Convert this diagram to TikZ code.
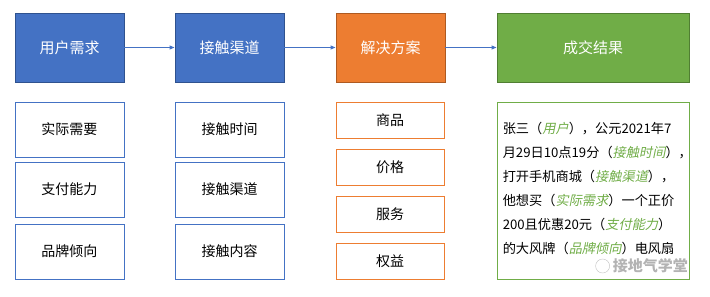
\documentclass[tikz,border=0pt]{standalone}
\usepackage{fontspec}
\setmainfont{Noto Sans CJK SC}
\newfontfamily\cjkit{Noto Sans CJK SC}[FakeSlant=0.2]
\usetikzlibrary{arrows.meta}
\definecolor{cblue}{HTML}{4472C4}
\definecolor{cbluedark}{HTML}{2F528F}
\definecolor{corange}{HTML}{ED7D31}
\definecolor{corangedark}{HTML}{AE5A21}
\definecolor{cgreen}{HTML}{70AD47}
\definecolor{cgreendark}{HTML}{507E32}
\newcommand{\ann}[1]{{\cjkit\color{cgreen}#1}}
\begin{document}
\begin{tikzpicture}[x=1pt,y=-1pt,
  headbox/.style={draw, line width=0.9pt, text=white, font=\fontsize{15}{18}\selectfont, inner sep=0pt},
  subbox/.style={draw, fill=white, line width=0.9pt, text=black, font=\fontsize{14}{17}\selectfont, inner sep=0pt},
  flow/.style={draw=cblue, line width=0.9pt, -{Triangle[length=5pt,width=4pt]}}]
\useasboundingbox (0,0) rectangle (710,297);
% header boxes
\node[headbox, fill=cblue, draw=cbluedark, minimum width=109pt, minimum height=69pt] (h1) at (69.5,47.5) {用户需求};
\node[headbox, fill=cblue, draw=cbluedark, minimum width=109pt, minimum height=69pt] (h2) at (229.5,47.5) {接触渠道};
\node[headbox, fill=corange, draw=corangedark, minimum width=109pt, minimum height=69pt] (h3) at (390.5,47.5) {解决方案};
\node[headbox, fill=cgreen, draw=cgreendark, minimum width=192pt, minimum height=69pt] (h4) at (593,47.5) {成交结果};
\draw[flow] (h1) -- (h2);
\draw[flow] (h2) -- (h3);
\draw[flow] (h3) -- (h4);
% column 1
\node[subbox, draw=cblue, minimum width=109pt, minimum height=55pt] (a1) at (69.5,129.5) {实际需要};
\node[subbox, draw=cblue, minimum width=109pt, minimum height=55pt] (a2) at (69.5,189.5) {支付能力};
\node[subbox, draw=cblue, minimum width=109pt, minimum height=55pt] (a3) at (69.5,251.5) {品牌倾向};
% column 2
\node[subbox, draw=cblue, minimum width=109pt, minimum height=55pt] (b1) at (229.5,129.5) {接触时间};
\node[subbox, draw=cblue, minimum width=109pt, minimum height=55pt] (b2) at (229.5,189.5) {接触渠道};
\node[subbox, draw=cblue, minimum width=109pt, minimum height=55pt] (b3) at (229.5,251.5) {接触内容};
% column 3
\node[subbox, draw=corange, minimum width=108pt, minimum height=36pt] (c1) at (390,120) {商品};
\node[subbox, draw=corange, minimum width=108pt, minimum height=36pt] (c2) at (390,167.5) {价格};
\node[subbox, draw=corange, minimum width=108pt, minimum height=36pt] (c3) at (390,214.5) {服务};
\node[subbox, draw=corange, minimum width=108pt, minimum height=36pt] (c4) at (390,261.5) {权益};
% result box
\node[draw=cgreen, line width=0.9pt, minimum width=192pt, minimum height=177pt, inner sep=0pt] (d) at (593,190.5) {};
\node[anchor=north west, align=left, inner sep=0pt, font=\fontsize{13.2}{24}\selectfont] (dtext) at ([xshift=6pt,yshift=-20pt]d.north west)
{张三（\ann{用户}），公元2021年7\\
月29日10点19分（\ann{接触时间}），\\
打开手机商城（\ann{接触渠道}），\\
他想买（\ann{实际需求}）一个正价\\
200且优惠20元（\ann{支付能力}）\\
的大风牌（\ann{品牌倾向}）电风扇};
% watermark
\node[anchor=east, inner sep=0pt, text=black!40, font=\fontsize{15}{17}\selectfont\bfseries, opacity=0.75] (wm) at (688,266) {接地气学堂};
\node[draw=black!35, circle, minimum size=14pt, inner sep=0pt, opacity=0.7] (wmicon) at ([xshift=-10pt]wm.west) {};
\end{tikzpicture}
\end{document}
